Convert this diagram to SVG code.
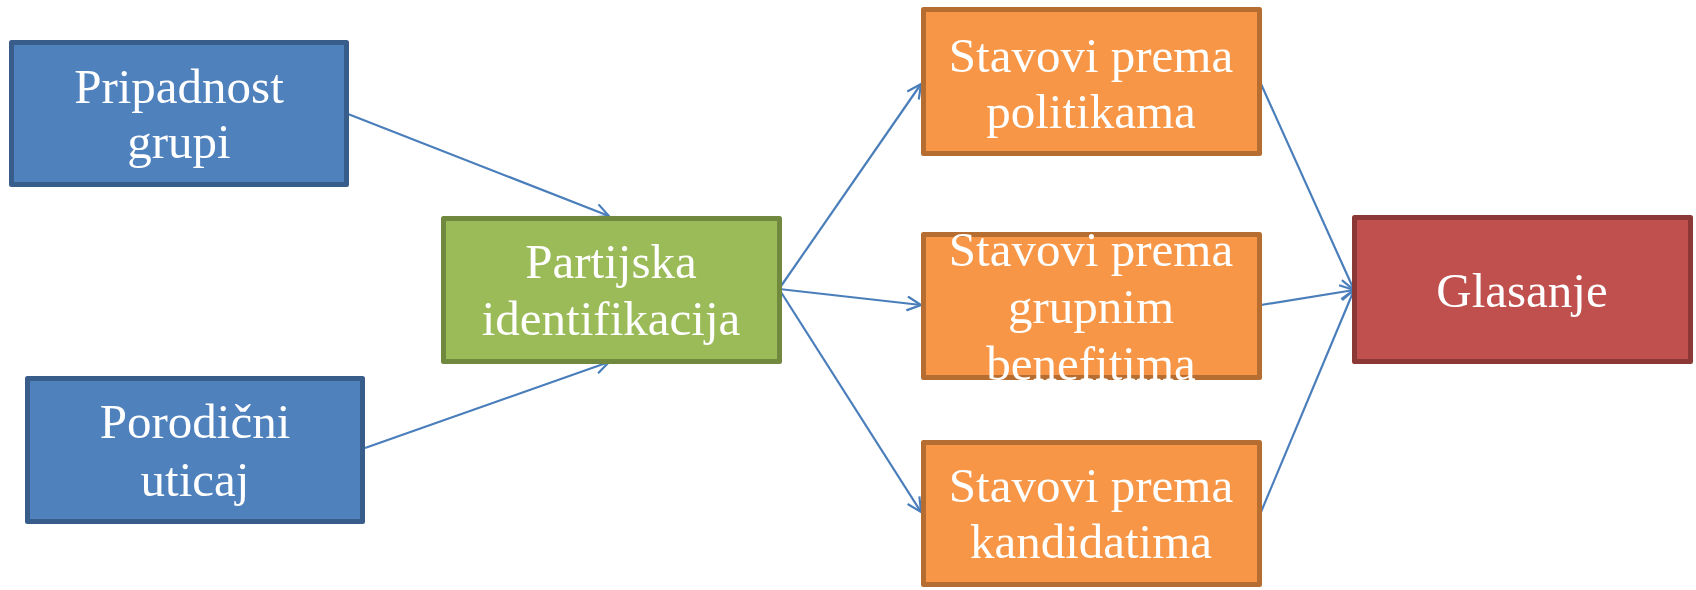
<svg xmlns="http://www.w3.org/2000/svg" width="1696" height="590" viewBox="0 0 1696 590">
<style>
.box{stroke-width:5;stroke-linejoin:round}
.blue{fill:#4f81bd;stroke:#385d8a}
.green{fill:#9bbb59;stroke:#71893f}
.orange{fill:#f79646;stroke:#b66d31}
.red{fill:#c0504d;stroke:#8c3836}
.t{font-family:"Liberation Serif","DejaVu Serif",serif;font-size:49px;fill:#ffffff;text-anchor:middle}
.c{fill:none;stroke:#4a7ebb;stroke-width:2.2}
</style>
<defs>
<marker id="ah" viewBox="0 0 16 16" refX="15" refY="8" markerWidth="16" markerHeight="16" markerUnits="userSpaceOnUse" orient="auto">
<path d="M1,1 L15,8 L1,15" fill="none" stroke="#4a7ebb" stroke-width="2.2"/>
</marker>
<clipPath id="clipMid"><rect x="921" y="232" width="341" height="148"/></clipPath>
</defs>
<g id="connectors">
<line class="c" x1="348" y1="114" x2="609" y2="216" marker-end="url(#ah)"/>
<line class="c" x1="365" y1="448" x2="609" y2="362" marker-end="url(#ah)"/>
<line class="c" x1="779" y1="289" x2="921" y2="84" marker-end="url(#ah)"/>
<line class="c" x1="779" y1="289" x2="921" y2="305" marker-end="url(#ah)"/>
<line class="c" x1="779" y1="289" x2="921" y2="512" marker-end="url(#ah)"/>
<line class="c" x1="1261" y1="84" x2="1354" y2="290" marker-end="url(#ah)"/>
<line class="c" x1="1261" y1="305" x2="1354" y2="290" marker-end="url(#ah)"/>
<line class="c" x1="1261" y1="512" x2="1354" y2="290" marker-end="url(#ah)"/>
</g>
<g id="pripadnost">
<rect class="box blue" x="11.5" y="42.5" width="335" height="142"/>
<text class="t" x="179" y="103">Pripadnost</text>
<text class="t" x="179" y="158">grupi</text>
</g>
<g id="porodicni">
<rect class="box blue" x="27.5" y="378.5" width="335" height="143"/>
<text class="t" x="195" y="438">Porodični</text>
<text class="t" x="195" y="496">uticaj</text>
</g>
<g id="partijska">
<rect class="box green" x="443.5" y="218.5" width="336" height="143"/>
<text class="t" x="611" y="278">Partijska</text>
<text class="t" x="611" y="335">identifikacija</text>
</g>
<g id="politikama">
<rect class="box orange" x="923.5" y="9.5" width="336" height="144"/>
<text class="t" x="1091" y="72">Stavovi prema</text>
<text class="t" x="1091" y="128">politikama</text>
</g>
<g id="benefitima">
<rect class="box orange" x="923.5" y="234.5" width="336" height="143"/>
<g clip-path="url(#clipMid)">
<text class="t" x="1091" y="266">Stavovi prema</text>
<text class="t" x="1091" y="323">grupnim</text>
<text class="t" x="1091" y="380">benefitima</text>
</g>
</g>
<g id="kandidatima">
<rect class="box orange" x="923.5" y="442.5" width="336" height="142"/>
<text class="t" x="1091" y="502">Stavovi prema</text>
<text class="t" x="1091" y="558">kandidatima</text>
</g>
<g id="glasanje">
<rect class="box red" x="1354.5" y="217.5" width="336" height="144"/>
<text class="t" x="1522" y="307">Glasanje</text>
</g>
</svg>
